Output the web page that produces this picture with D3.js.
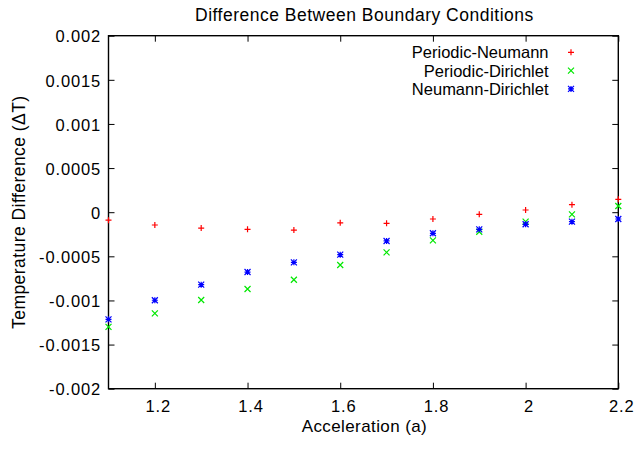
<!DOCTYPE html>
<html>
<head>
<meta charset="utf-8">
<script src="https://cdn.jsdelivr.net/npm/d3@7"></script>
<style>
  body { margin: 0; background: #fff; }
  text { font-family: "Liberation Sans", Arial, sans-serif; fill: #000; }
</style>
</head>
<body>
<div id="chart"></div>
<script>
// acceleration values
var accel = [1.1, 1.2, 1.3, 1.4, 1.5, 1.6, 1.7, 1.8, 1.9, 2.0, 2.1, 2.2];

// temperature differences
var periodicNeumann = [-0.00009, -0.000145, -0.00018, -0.000194, -0.000202, -0.00012,
                       -0.000126, -0.000077, -0.000024, 0.000025, 0.000085, 0.000146];
var periodicDirichlet = [-0.0013, -0.001146, -0.000995, -0.00087, -0.000765, -0.000598,
                         -0.000455, -0.000319, -0.000221, -0.000107, -0.000024, 0.00007];
var neumannDirichlet = [-0.001214, -0.000998, -0.000821, -0.000678, -0.000568, -0.000481,
                        -0.000326, -0.000239, -0.000194, -0.000137, -0.000107, -0.000077];

var xTicks = [1.2, 1.4, 1.6, 1.8, 2.0, 2.2];
var yTicks = [-0.002, -0.0015, -0.001, -0.0005, 0, 0.0005, 0.001, 0.0015, 0.002];

var seriesNames = ["Periodic-Neumann", "Periodic-Dirichlet", "Neumann-Dirichlet"];
var seriesColors = ["#ff0000", "#00e800", "#0000ff"];
var seriesShapes = ["plus", "cross", "star"];

var width = 634, height = 450;
var margin = {top: 35.7, right: 15.7, bottom: 61.3, left: 108.5};

var svg = d3.select("#chart").append("svg")
    .attr("width", width)
    .attr("height", height);

var x = d3.scaleLinear().domain([1.1, 2.2]).range([margin.left, width - margin.right]);
var y = d3.scaleLinear().domain([-0.002, 0.002]).range([height - margin.bottom, margin.top]);

// plain hyphen minus like the original
var fmtY = function(d) { return String(+d.toFixed(4)); };
var fmtX = function(d) { return String(+d.toFixed(1)); };

// axes: ticks point inward, mirrored on the opposite sides
var g = svg.append("g");

function styleAxis(sel) {
    sel.select(".domain").remove();
    sel.selectAll("line").attr("stroke", "#000").attr("stroke-width", 1);
    sel.selectAll("text").attr("font-size", 16.5).attr("letter-spacing", 0.85);
}

g.append("g")
    .attr("transform", "translate(0," + y.range()[0] + ")")
    .call(d3.axisBottom(x).tickValues(xTicks).tickFormat(fmtX).tickSizeInner(-6).tickPadding(12))
    .call(styleAxis)
    .selectAll("text").attr("dx", 3);

g.append("g")
    .attr("transform", "translate(0," + y.range()[1] + ")")
    .call(d3.axisTop(x).tickValues(xTicks).tickFormat("").tickSizeInner(-6))
    .call(styleAxis);

g.append("g")
    .attr("transform", "translate(" + x.range()[0] + ",0)")
    .call(d3.axisLeft(y).tickValues(yTicks).tickFormat(fmtY).tickSizeInner(-6).tickPadding(7.5))
    .call(styleAxis)
    .selectAll("text").attr("dy", "0.38em");

g.append("g")
    .attr("transform", "translate(" + x.range()[1] + ",0)")
    .call(d3.axisRight(y).tickValues(yTicks).tickFormat("").tickSizeInner(-6))
    .call(styleAxis);

// frame
svg.append("rect")
    .attr("x", x.range()[0])
    .attr("y", y.range()[1])
    .attr("width", x.range()[1] - x.range()[0])
    .attr("height", y.range()[0] - y.range()[1])
    .attr("fill", "none")
    .attr("stroke", "#000")
    .attr("stroke-width", 1.4);

// point markers
function marker(sel, shape, color) {
    var s = 3;
    var path = "";
    if (shape === "plus" || shape === "star") path += "M" + (-s) + ",0H" + s + "M0," + (-s) + "V" + s;
    if (shape === "cross" || shape === "star") path += "M" + (-s) + "," + (-s) + "L" + s + "," + s + "M" + (-s) + "," + s + "L" + s + "," + (-s);
    sel.append("path").attr("d", path).attr("stroke", color).attr("stroke-width", 1.2).attr("fill", "none");
}

var allSeries = [periodicNeumann, periodicDirichlet, neumannDirichlet];

allSeries.forEach(function(vals, i) {
    svg.append("g").selectAll("g")
        .data(vals)
        .enter()
        .append("g")
        .attr("transform", function(d, j) { return "translate(" + x(accel[j]) + "," + y(d) + ")"; })
        .each(function() { marker(d3.select(this), seriesShapes[i], seriesColors[i]); });
});

// legend
var legend = svg.append("g");
seriesNames.forEach(function(name, i) {
    var ly = 52.3 + i * 18.3;
    legend.append("text")
        .attr("x", 548.5).attr("y", ly)
        .attr("dy", "0.36em")
        .attr("text-anchor", "end")
        .attr("font-size", 16.5)
        .text(name);
    var m = legend.append("g").attr("transform", "translate(571," + ly + ")");
    marker(m, seriesShapes[i], seriesColors[i]);
});

// title and axis labels
svg.append("text")
    .attr("x", (x.range()[0] + x.range()[1]) / 2 + 1)
    .attr("y", 20.5)
    .attr("text-anchor", "middle")
    .attr("font-size", 17.5)
    .attr("letter-spacing", 0.5)
    .text("Difference Between Boundary Conditions");

svg.append("text")
    .attr("x", (x.range()[0] + x.range()[1]) / 2 + 1)
    .attr("y", 432)
    .attr("text-anchor", "middle")
    .attr("font-size", 17)
    .attr("letter-spacing", 0.4)
    .text("Acceleration (a)");

svg.append("text")
    .attr("transform", "translate(25," + (y.range()[0] + y.range()[1]) / 2 + ") rotate(-90)")
    .attr("text-anchor", "middle")
    .attr("font-size", 17.5)
    .attr("letter-spacing", 0.45)
    .text("Temperature Difference (\u0394T)");
</script>
</body>
</html>
